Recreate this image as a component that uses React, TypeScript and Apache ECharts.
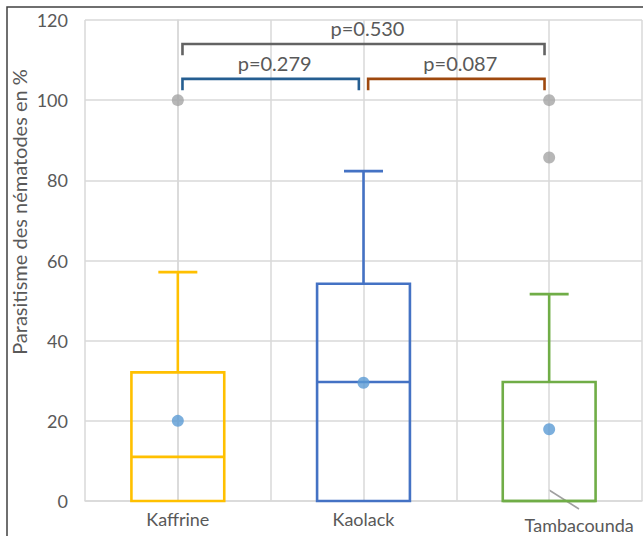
import React, { useEffect, useRef } from 'react';
import * as echarts from 'echarts';

const categories = ['Kaffrine', 'Kaolack', 'Tambacounda'];
const boxColors = ['#FFC000', '#4472C4', '#70AD47'];
const whiskerLow = [0, 0, 0];
const q1 = [0, 0, 0];
const medians = [11, 29.7, 0];
const q3 = [32.1, 54.2, 29.7];
const whiskerHigh = [57.1, 82.3, 51.6];
const means = [20, 29.5, 17.9];
const outlierCat = [0, 2, 2];
const outlierVal = [100, 100, 85.7];

const bracketLabels = ['p=0.279', 'p=0.087', 'p=0.530'];
const bracketFrom = [0.025, 1.025, 0.025];
const bracketTo = [0.975, 1.975, 1.975];
const bracketLevel = [105.3, 105.3, 114];
const bracketDrop = 2.8;
const bracketColors = ['#255E91', '#9E480E', '#636363'];

const yTitle = 'Parasitisme des nématodes en %';
const FONT = 'Lato';
const TEXT = '#595959';
const GRID = '#D9D9D9';

export default function App() {
  const ref = useRef<HTMLDivElement>(null);
  useEffect(() => {
    if (!ref.current) return;
    const chart = echarts.init(ref.current, undefined, { renderer: 'svg' });
    const boxData = categories.map((_, i) => [i, whiskerLow[i], q1[i], medians[i], q3[i], whiskerHigh[i]]);
    const bracketData = bracketLabels.map((_, i) => [bracketFrom[i], bracketTo[i], bracketLevel[i], i]);
    chart.setOption({
      animation: false,
      grid: { left: 85, right: 1, top: 20, bottom: 35 },
      xAxis: [
        {
          type: 'value', min: -0.5, max: 2.5, interval: 0.5,
          axisLabel: { show: false }, axisTick: { show: false },
          axisLine: { show: true, lineStyle: { color: GRID, width: 1.5 } },
          splitLine: { show: true, lineStyle: { color: GRID, width: 1.5 } },
        },
        {
          type: 'category', data: categories, position: 'bottom',
          axisLine: { show: false }, axisTick: { show: false }, splitLine: { show: false },
          axisLabel: {
            interval: 0, color: TEXT, fontSize: 18, fontFamily: FONT, margin: 9,
            formatter: (v: string) => (v === 'Tambacounda' ? `{t|${v}}` : v),
            rich: { t: { padding: [6, 0, 0, 60], fontSize: 18, fontFamily: FONT, color: TEXT } },
          },
        },
      ],
      yAxis: {
        type: 'value', min: 0, max: 120, interval: 20,
        axisLine: { show: true, lineStyle: { color: GRID, width: 1.5 } },
        axisTick: { show: false },
        splitLine: { show: true, lineStyle: { color: GRID, width: 1.5 } },
        axisLabel: { color: TEXT, fontSize: 18, fontFamily: FONT, margin: 17 },
      },
      graphic: [
        { type: 'rect', shape: { x: 7, y: 7, width: 700, height: 600 }, style: { stroke: '#404040', lineWidth: 1.5, fill: 'none' }, silent: true },
        { type: 'text', x: 19, y: 212, rotation: Math.PI / 2, style: { text: yTitle, fill: TEXT, fontSize: 20, fontFamily: FONT, align: 'center', verticalAlign: 'middle' } },
        { type: 'line', shape: { x1: 549, y1: 490, x2: 579, y2: 509 }, style: { stroke: '#A0A0A0', lineWidth: 1.5 } },
      ],
      series: [
        {
          type: 'custom', xAxisIndex: 0, yAxisIndex: 0, data: boxData,
          encode: { x: 0, y: [1, 2, 3, 4, 5] },
          renderItem: (params: any, api: any) => {
            const x = api.value(0);
            const cx = api.coord([x, 0])[0];
            const yLo = api.coord([x, api.value(1)])[1];
            const yQ1 = api.coord([x, api.value(2)])[1];
            const yMed = api.coord([x, api.value(3)])[1];
            const yQ3 = api.coord([x, api.value(4)])[1];
            const yHi = api.coord([x, api.value(5)])[1];
            const hb = api.size([0.5, 0])[0] / 2;
            const hc = api.size([0.21, 0])[0] / 2;
            const style = { stroke: boxColors[params.dataIndex], lineWidth: 2.6, fill: 'none' };
            return {
              type: 'group',
              children: [
                { type: 'line', shape: { x1: cx, y1: yQ3, x2: cx, y2: yHi }, style },
                { type: 'line', shape: { x1: cx - hc, y1: yHi, x2: cx + hc, y2: yHi }, style },
                { type: 'line', shape: { x1: cx, y1: yQ1, x2: cx, y2: yLo }, style },
                { type: 'rect', shape: { x: cx - hb, y: yQ3, width: hb * 2, height: yQ1 - yQ3 }, style },
                { type: 'line', shape: { x1: cx - hb, y1: yMed, x2: cx + hb, y2: yMed }, style },
              ],
            };
          },
        },
        {
          type: 'scatter', xAxisIndex: 0, yAxisIndex: 0, symbolSize: 12,
          itemStyle: { color: '#5B9BD5' },
          data: means.map((m, i) => [i, m]),
        },
        {
          type: 'scatter', xAxisIndex: 0, yAxisIndex: 0, symbolSize: 12,
          itemStyle: { color: '#A5A5A5' },
          data: outlierVal.map((v, i) => [outlierCat[i], v]),
        },
        {
          type: 'custom', xAxisIndex: 0, yAxisIndex: 0, data: bracketData, clip: false,
          encode: { x: [0, 1], y: 2 },
          renderItem: (params: any, api: any) => {
            const i = api.value(3);
            const lvl = api.value(2);
            const [x1, yL] = api.coord([api.value(0), lvl]);
            const x2 = api.coord([api.value(1), lvl])[0];
            const yD = api.coord([api.value(0), lvl - bracketDrop])[1];
            return {
              type: 'group',
              children: [
                { type: 'polyline', shape: { points: [[x1, yD], [x1, yL], [x2, yL], [x2, yD]] }, style: { stroke: bracketColors[i], lineWidth: 2.6, fill: 'none' } },
                { type: 'text', x: (x1 + x2) / 2 + 4, y: yL - 16, style: { text: bracketLabels[i], fill: TEXT, fontSize: 20, fontFamily: FONT, align: 'center', verticalAlign: 'middle' } },
              ],
            };
          },
        },
      ],
    });
    return () => chart.dispose();
  }, []);
  return <div ref={ref} style={{ position: 'absolute', left: 0, top: 0, width: 643, height: 536 }} />;
}
